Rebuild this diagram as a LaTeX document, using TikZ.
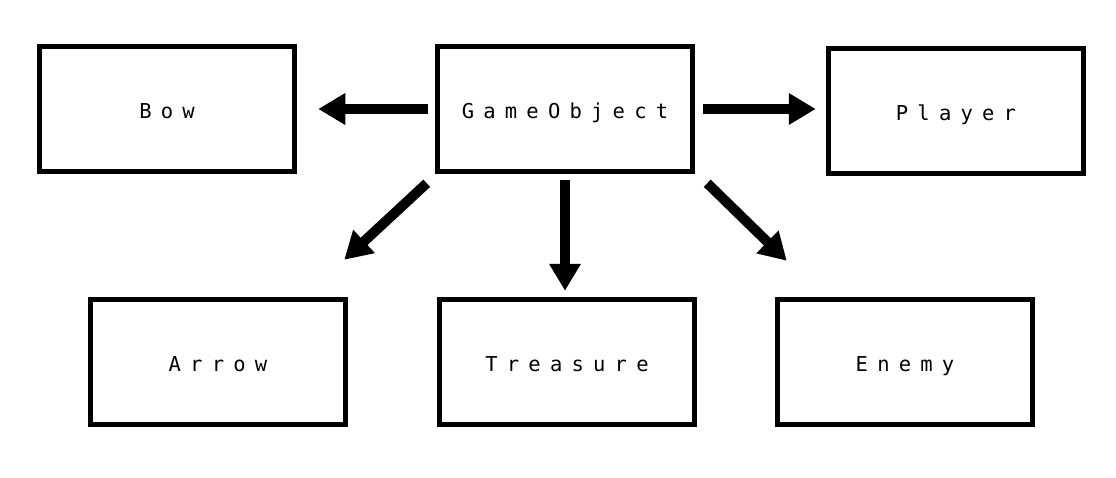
\documentclass[tikz,border=0pt]{standalone}
\usepackage{fontspec}
\newfontfamily\boxfont[LetterSpace=45]{DejaVu Sans Mono}
\usetikzlibrary{arrows.meta}

\begin{document}
\begin{tikzpicture}[x=1pt,y=1pt,font=\boxfont\fontsize{20.5}{24}\selectfont,box/.style={draw,line width=5.5pt,minimum width=255pt,minimum height=125pt,text height=21pt,text depth=3pt},arr/.style={line width=10pt,-{Triangle[length=27pt,width=30pt]}}]
\useasboundingbox (0,0) rectangle (1116,-477);
\node[box] (go) at (565,-109) {GameObject};
\node[box] (bow) at (167,-109) {Bow};
\node[box] (player) at (956,-111) {Player};
\node[box] (arrow) at (218,-362) {Arrow};
\node[box] (treasure) at (567,-362) {Treasure};
\node[box] (enemy) at (905,-362) {Enemy};
\draw[arr,shorten <=7pt,shorten >=21pt] (go.west) -- (go.west -| bow.east);
\draw[arr,shorten <=8pt,shorten >=10pt] (go.east) -- (go.east -| player.west);
\draw[arr] ([xshift=-8pt,yshift=-9pt]go.south west) -- ([xshift=-4pt,yshift=37pt]arrow.north east);
\draw[arr,shorten <=6pt,shorten >=6pt] (go.south) -- (go.south |- treasure.north);
\draw[arr] ([xshift=12pt,yshift=-9pt]go.south east) -- ([xshift=12pt,yshift=36pt]enemy.north west);
\end{tikzpicture}
\end{document}
